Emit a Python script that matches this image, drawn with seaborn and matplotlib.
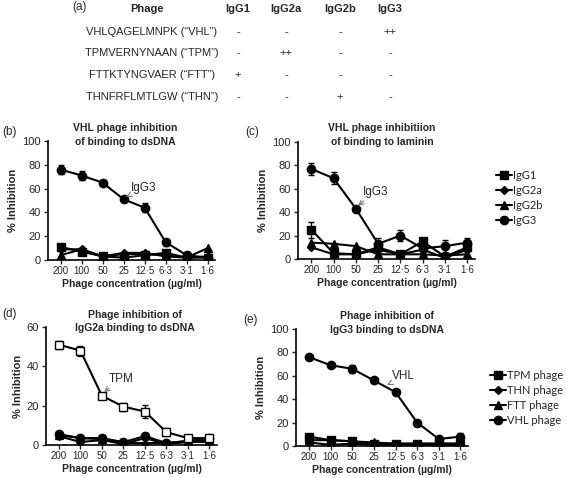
import numpy as np
import pandas as pd
import matplotlib
matplotlib.use("Agg")
import matplotlib.pyplot as plt
import seaborn as sns

# x categories (phage concentration, µg/ml)
conc = ["200", "100", "50", "25", "12·5", "6·3", "3·1", "1·6"]

# table (a)
phage_rows = ["VHLQAGELMNPK (“VHL”)", "TPMVERNYNAAN (“TPM”)",
              "FTTKTYNGVAER (“FTT”)", "THNFRFLMTLGW (“THN”)"]
igg_cols = ["IgG1", "IgG2a", "IgG2b", "IgG3"]
table_vals = [["-", "-", "-", "++"],
              ["-", "++", "-", "-"],
              ["+", "-", "-", "-"],
              ["-", "-", "+", "-"]]

# (b) VHL phage inhibition of binding to dsDNA
b_igg1 = [11, 7, 3, 2, 4, 6, 2, 2]
b_igg2a = [9, 9, 3, 6, 6, 3, 2, 3]
b_igg2b = [4, 9, 3, 5, 5, 4, 2, 10]
b_igg3 = [76, 71, 65, 51, 44, 15, 4, 2]
b_igg3_err = [4, 4, 2, 2, 4, 3, 3, 1]

# (c) VHL phage inhibition of binding to laminin
c_igg1 = [25, 5, 4, 10, 4, 15, 2, 10]
c_igg2a = [10, 4, 4, 8, 4, 8, 1, 8]
c_igg2b = [14, 13, 11, 4, 4, 4, 3, 4]
c_igg3 = [77, 69, 43, 13, 20, 9, 11, 14]
c_igg1_err = [7, 2, 1, 3, 2, 2, 1, 3]
c_igg3_err = [5, 5, 1, 5, 5, 3, 5, 4]

# (d) phage inhibition of IgG2a binding to dsDNA
d_tpm = [51, 48, 25, 19.5, 17, 6.5, 3.5, 3.5]
d_tpm_err = [2, 2.5, 1, 2, 3.5, 2, 1.5, 1.5]
d_thn = [4.5, 1.5, 2.5, 0.5, 3.5, 0.5, 1.5, 1.5]
d_ftt = [5, 3.5, 3, 1, 1, 1, 2, 2.5]
d_vhl = [5.5, 3.5, 3.5, 1.5, 4.5, 1, 2, 3.5]

# (e) phage inhibition of IgG3 binding to dsDNA
e_tpm = [8, 5, 4, 2, 2, 2, 2, 2]
e_thn = [3, 1, 2, 1, 1, 1, 1, 1]
e_ftt = [5, 5, 4, 3, 2, 2, 2, 2]
e_vhl = [76, 69, 66, 56, 46, 20, 6, 8]
e_vhl_err = [2, 1.5, 3.5, 2.5, 1, 2.5, 2, 3]

sns.set_style("white")
plt.rcParams["font.family"] = ["Liberation Sans", "DejaVu Sans"]

W, H = 567, 478
fig = plt.figure(figsize=(W / 100, H / 100), dpi=100)


def px_axes(left, right, top, bottom):
    return fig.add_axes([left / W, (H - bottom) / H, (right - left) / W, (bottom - top) / H])


def ftext(x, y, s, **kw):
    # place text using pixel coords measured from the top-left corner
    return fig.text(x / W, 1 - y / H, s, **kw)


def draw_panel(ax, series, markers, fills, errs, ylim, yticks):
    pos = np.arange(len(conc))
    rows = []
    for name, vals in series.items():
        for p, v in zip(pos, vals):
            rows.append({"pos": p, "val": v, "series": name})
    df = pd.DataFrame(rows)
    for name, vals in series.items():
        sub = df[df["series"] == name]
        sns.lineplot(data=sub, x="pos", y="val", ax=ax, color="black", lw=1.5,
                     marker=markers[name], markersize=6 if markers[name] != "D" else 4,
                     markerfacecolor=fills[name], markeredgecolor="black",
                     markeredgewidth=1.0, legend=False, zorder=3)
        if name in errs:
            ax.errorbar(pos, vals, yerr=errs[name], fmt="none", ecolor="black",
                        elinewidth=1.0, capsize=2.5, capthick=1.0, zorder=2)
    ax.set_xlim(-0.6, 7.35)
    ax.set_ylim(*ylim)
    ax.set_yticks(yticks)
    ax.set_xticks(pos)
    ax.set_xticklabels(conc, fontsize=7)
    ax.tick_params(axis="y", labelsize=8, length=3, width=1, direction="out", left=True, pad=2)
    ax.tick_params(axis="x", length=3, width=1, direction="out", bottom=True, pad=1.5)
    for s in ["top", "right"]:
        ax.spines[s].set_visible(False)
    for s in ["left", "bottom"]:
        ax.spines[s].set_color("black")
        ax.spines[s].set_linewidth(1.2)
    ax.set_xlabel("Phage concentration (µg/ml)", fontsize=7.5, fontweight="bold", labelpad=2)
    ax.set_ylabel("% Inhibition", fontsize=8, fontweight="bold", labelpad=3)


igg_markers = {"IgG1": "s", "IgG2a": "D", "IgG2b": "^", "IgG3": "o"}
igg_fills = {k: "black" for k in igg_markers}
arrow = dict(arrowstyle="->", color="#777777", lw=0.8, shrinkA=0, shrinkB=2)

# (b)
ax_b = px_axes(48, 215, 141, 260)
draw_panel(ax_b, {"IgG1": b_igg1, "IgG2a": b_igg2a, "IgG2b": b_igg2b, "IgG3": b_igg3},
           igg_markers, igg_fills, {"IgG3": b_igg3_err}, (0, 100), range(0, 101, 20))
ax_b.annotate("IgG3", xy=(3, 52), xytext=(3.35, 58), fontsize=8.5, arrowprops=arrow)
ftext(125, 128, "VHL phage inhibition", fontsize=7.5, fontweight="bold", ha="center", va="center")
ftext(125, 142, "of binding to dsDNA", fontsize=7.5, fontweight="bold", ha="center", va="center")

# (c)
ax_c = px_axes(298, 475, 142, 259)
draw_panel(ax_c, {"IgG1": c_igg1, "IgG2a": c_igg2a, "IgG2b": c_igg2b, "IgG3": c_igg3},
           igg_markers, igg_fills, {"IgG1": c_igg1_err, "IgG3": c_igg3_err}, (0, 100),
           range(0, 101, 20))
ax_c.annotate("IgG3", xy=(2, 44), xytext=(2.3, 55), fontsize=8.5, arrowprops=arrow)
ftext(382, 128, "VHL phage inhibitiion", fontsize=7.5, fontweight="bold", ha="center", va="center")
ftext(382, 142, "of binding to laminin", fontsize=7.5, fontweight="bold", ha="center", va="center")

# (d)
phage_markers = {"TPM phage": "s", "THN phage": "D", "FTT phage": "^", "VHL phage": "o"}
d_fills = {"TPM phage": "white", "THN phage": "black", "FTT phage": "black", "VHL phage": "black"}
ax_d = px_axes(46, 217, 327, 445)
draw_panel(ax_d, {"THN phage": d_thn, "FTT phage": d_ftt, "VHL phage": d_vhl, "TPM phage": d_tpm},
           phage_markers, d_fills, {"TPM phage": d_tpm_err, "VHL phage": [1.5] * 8},
           (0, 60), range(0, 61, 20))
ax_d.annotate("TPM", xy=(2, 26), xytext=(2.3, 32), fontsize=8.5, arrowprops=arrow)
ftext(135, 315, "Phage inhibition of", fontsize=7.5, fontweight="bold", ha="center", va="center")
ftext(135, 328, "IgG2a binding to dsDNA", fontsize=7.5, fontweight="bold", ha="center", va="center")

# (e)
e_fills = {k: "black" for k in phage_markers}
ax_e = px_axes(296, 468, 329, 446)
draw_panel(ax_e, {"TPM phage": e_tpm, "THN phage": e_thn, "FTT phage": e_ftt, "VHL phage": e_vhl},
           phage_markers, e_fills, {"VHL phage": e_vhl_err, "FTT phage": [1.5] * 8},
           (0, 100), range(0, 101, 20))
ax_e.annotate("VHL", xy=(3.5, 51), xytext=(3.85, 57), fontsize=8.5, arrowprops=arrow)
ftext(387, 316, "Phage inhibition of", fontsize=7.5, fontweight="bold", ha="center", va="center")
ftext(387, 330, "IgG3 binding to dsDNA", fontsize=7.5, fontweight="bold", ha="center", va="center")


def add_legend(markers, x0, y0):
    handles = [plt.Line2D([], [], color="black", lw=1.5, marker=m,
                          markersize=6 if m != "D" else 4, markerfacecolor="black")
               for m in markers.values()]
    fig.legend(handles, list(markers.keys()), loc="upper left",
               bbox_to_anchor=(x0 / W, (H - y0) / H), frameon=False,
               handlelength=1.4, handletextpad=0.15, labelspacing=0.35,
               prop={"family": "Lato", "size": 8}, borderaxespad=0, borderpad=0)


add_legend(igg_markers, 496, 170)
add_legend(phage_markers, 490, 370)

# panel letters
ftext(2, 132, "(b)", fontsize=8.5, va="center")
ftext(245, 132, "(c)", fontsize=8.5, va="center")
ftext(2, 314, "(d)", fontsize=8.5, va="center")
ftext(243, 320, "(e)", fontsize=8.5, va="center")

# table (a)
ftext(72, 7, "(a)", fontsize=8.5, va="center")
ftext(147, 9, "Phage", fontsize=8, fontweight="bold", ha="center", va="center")
col_x = [238, 286, 340, 390]
for cx, name in zip(col_x, igg_cols):
    ftext(cx, 9, name, fontsize=8, fontweight="bold", ha="center", va="center")
row_y = [32, 53, 75, 97]
for ry, label, vals in zip(row_y, phage_rows, table_vals):
    ftext(152, ry, label, fontsize=8, ha="center", va="center")
    for cx, v in zip(col_x, vals):
        ftext(cx, ry, v, fontsize=8, ha="center", va="center")

fig.savefig("out.png", dpi=100)
